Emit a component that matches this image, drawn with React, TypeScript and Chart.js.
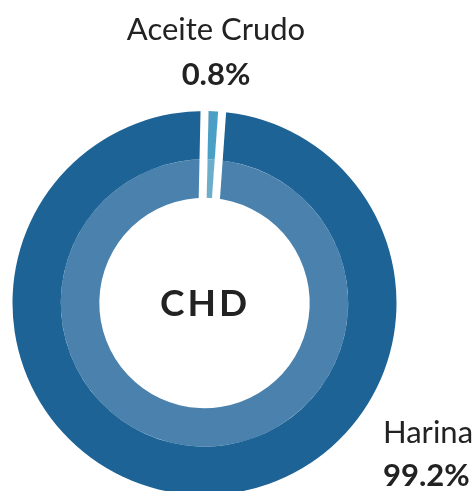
import React, { useEffect, useRef } from "react";
import { Chart, registerables } from "chart.js";

Chart.register(...registerables);

// ---- data ----
const categories = ["Aceite Crudo", "Harina"];
const shares = [0.8, 99.2];
const shareLabels = ["0.8%", "99.2%"];
const centerLabel = "CHD";

// ---- styles ----
const outerColors = ["#4a9fc4", "#1d6396"];
const innerColors = ["#6aaecb", "#4a82ad"];
const FONT = "Lato, 'Noto Sans', sans-serif";
const TEXT = "#222222";
const GAP = 8;

const gapPlugin = {
  id: "sliceGaps",
  afterDatasetsDraw(chart: any) {
    const ctx = chart.ctx;
    const outerMeta = chart.getDatasetMeta(0);
    const innerMeta = chart.getDatasetMeta(chart.data.datasets.length - 1);
    const arcs = outerMeta.data;
    if (!arcs.length) return;
    const cx = arcs[0].x;
    const cy = arcs[0].y;
    const rOut = arcs[0].outerRadius + 2;
    const rIn = Math.max(innerMeta.data[0].innerRadius - 2, 0);
    const values = chart.data.datasets[0].data as number[];
    ctx.save();
    ctx.fillStyle = "#ffffff";
    const n = arcs.length;
    for (let i = 0; i < n; i++) {
      const next = (i + 1) % n;
      const a = arcs[i].endAngle;
      // carve gap into the larger neighbour
      const dir = values[next] >= values[i] ? 1 : -1;
      const ux = Math.cos(a), uy = Math.sin(a);
      const ox = -Math.sin(a) * GAP * dir, oy = Math.cos(a) * GAP * dir;
      ctx.beginPath();
      ctx.moveTo(cx + ux * rIn, cy + uy * rIn);
      ctx.lineTo(cx + ux * rOut, cy + uy * rOut);
      ctx.lineTo(cx + ux * rOut + ox, cy + uy * rOut + oy);
      ctx.lineTo(cx + ux * rIn + ox, cy + uy * rIn + oy);
      ctx.closePath();
      ctx.fill();
    }
    ctx.restore();
  },
};

export default function App() {
  const ref = useRef<HTMLCanvasElement | null>(null);
  useEffect(() => {
    if (!ref.current) return;
    const chart = new Chart(ref.current, {
      type: "doughnut",
      data: {
        labels: categories,
        datasets: [
          { data: shares, backgroundColor: outerColors, borderWidth: 0, weight: 49 },
          { data: shares, backgroundColor: innerColors, borderWidth: 0, weight: 39 },
        ],
      },
      options: {
        responsive: false,
        animation: false,
        radius: 192,
        cutout: 103,
        rotation: 1.2,
        layout: { padding: { left: 0, right: 64, top: 115, bottom: 0 } },
        plugins: { legend: { display: false }, tooltip: { enabled: false } },
        events: [],
      },
      plugins: [gapPlugin],
    });
    return () => chart.destroy();
  }, []);

  const label = (text: string, style: React.CSSProperties) => (
    <div
      style={{
        position: "absolute",
        fontFamily: FONT,
        color: TEXT,
        whiteSpace: "nowrap",
        lineHeight: 1,
        ...style,
      }}
    >
      {text}
    </div>
  );

  return (
    <div
      style={{
        position: "absolute",
        left: 0,
        top: 0,
        width: 473,
        height: 491,
        overflow: "hidden",
        background: "#ffffff",
      }}
    >
      <canvas ref={ref} width={473} height={491} style={{ display: "block" }} />
      {label(categories[0], { left: 216, top: 13, fontSize: 31, transform: "translateX(-50%)" })}
      {label(shareLabels[0], { left: 216, top: 58, fontSize: 31, fontWeight: 700, transform: "translateX(-50%)" })}
      {label(categories[1], { left: 383, top: 416, fontSize: 31 })}
      {label(shareLabels[1], { left: 383, top: 459, fontSize: 31, fontWeight: 700 })}
      {label(centerLabel, {
        left: 205,
        top: 283,
        fontSize: 37,
        fontWeight: 700,
        letterSpacing: 3,
        transform: "translateX(-50%)",
      })}
    </div>
  );
}
